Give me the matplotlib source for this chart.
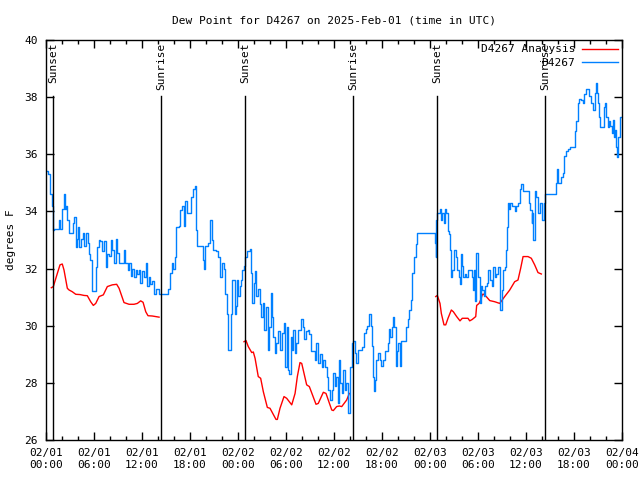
import numpy as np
import matplotlib
matplotlib.use("Agg")
import matplotlib.pyplot as plt
import matplotlib.dates as mdates

# hours after 2025-02-01 00:00 UTC
obs_hours = [
    0.05, 0.25, 0.5, 0.75, 0.9, 1.0, 1.5, 1.6, 1.8, 1.95, 2.2, 2.35, 2.5, 2.65, 2.9,
    3.2, 3.4, 3.55, 3.7, 3.9, 4.05, 4.15, 4.4, 4.65, 4.8, 4.95, 5.2, 5.4, 5.55, 5.8,
    6.0, 6.2, 6.4, 6.6, 6.8, 7.0, 7.2, 7.5, 7.65, 7.85, 8.1, 8.3, 8.5, 8.7, 8.9,
    9.1, 9.5, 9.7, 9.9, 10.2, 10.4, 10.6, 10.8, 11.0, 11.2, 11.4, 11.6, 11.8, 12.0,
    12.2, 12.45, 12.65, 12.85, 13.05, 13.25, 13.5, 13.7, 13.9, 14.1, 14.4, 15.1,
    15.25, 15.5, 15.7, 15.9, 16.1, 16.3, 16.6, 16.8, 17.0, 17.25, 17.4, 17.6, 18.1,
    18.4, 18.6, 18.8, 18.9, 19.5, 19.6, 19.75, 19.9, 20.3, 20.5, 20.7, 20.9, 21.3,
    21.55, 21.75, 21.95, 22.2, 22.4, 22.6, 22.8, 23.1, 23.2, 23.5, 23.6, 23.75,
    23.9, 24.05, 24.2, 24.35, 24.5, 24.7, 24.9, 25.1, 25.5, 25.6, 25.8, 25.95,
    26.1, 26.3, 26.5, 26.75, 26.9, 27.1, 27.25, 27.45, 27.7, 27.9, 28.1, 28.25,
    28.4, 28.6, 28.8, 29.0, 29.2, 29.45, 29.7, 29.9, 30.1, 30.25, 30.4, 30.6,
    30.75, 30.9, 31.1, 31.3, 31.5, 31.9, 32.1, 32.3, 32.5, 32.7, 32.9, 33.1, 33.4,
    33.6, 33.8, 34.0, 34.2, 34.45, 34.6, 34.85, 35.1, 35.3, 35.5, 35.7, 35.9, 36.1,
    36.3, 36.5, 36.6, 36.8, 36.95, 37.15, 37.35, 37.55, 37.8, 37.95, 38.2, 38.4,
    38.6, 38.8, 39.0, 39.5, 39.75, 39.95, 40.15, 40.4, 40.6, 40.8, 40.9, 41.0,
    41.1, 41.3, 41.5, 41.7, 41.9, 42.1, 42.4, 42.7, 42.85, 43.0, 43.2, 43.4, 43.55,
    43.7, 43.85, 44.0, 44.2, 44.4, 44.8, 45.0, 45.2, 45.4, 45.6, 45.8, 46.0, 46.2,
    46.4, 48.5, 48.6, 48.7, 48.8, 48.9, 49.2, 49.35, 49.5, 49.7, 49.9, 50.05, 50.2,
    50.35, 50.5, 50.6, 50.8, 51.0, 51.25, 51.4, 51.6, 51.7, 51.85, 52.0, 52.15,
    52.35, 52.55, 52.8, 53.0, 53.2, 53.35, 53.5, 53.6, 53.8, 53.95, 54.2, 54.35,
    54.5, 54.7, 54.9, 55.1, 55.3, 55.5, 55.7, 55.9, 56.1, 56.3, 56.5, 56.7, 56.8,
    56.95, 57.15, 57.35, 57.5, 57.6, 57.7, 57.85, 58.0, 58.2, 58.4, 58.6, 58.8,
    59.0, 59.25, 59.4, 59.6, 60.2, 60.35, 60.5, 60.7, 60.8, 60.9, 61.1, 61.3, 61.5,
    61.7, 62.0, 62.2, 62.3, 62.4, 63.6, 63.75, 63.9, 64.05, 64.4, 64.6, 64.8, 65.0,
    65.2, 65.5, 66.0, 66.1, 66.3, 66.5, 66.65, 66.9, 67.1, 67.3, 67.5, 67.7, 67.9,
    68.1, 68.4, 68.6, 68.7, 68.85, 69.0, 69.1, 69.25, 69.5, 69.7, 69.85, 70.05,
    70.2, 70.35, 70.55, 70.7, 70.85, 71.0, 71.1, 71.3, 71.4, 71.55, 71.75, 72.0,
]
obs_dewpt = [
    35.4, 35.3, 34.6, 34.2, 33.35, 33.4, 33.4, 33.7, 33.4, 34.1, 34.6, 34.1, 34.2, 33.7, 33.25,
    33.25, 33.6, 33.8, 32.75, 33.05, 33.45, 32.75, 33.05, 33.25, 32.8, 33.25, 32.9, 32.5, 32.3, 31.2,
    31.2, 32.05, 32.75, 33.0, 32.95, 32.6, 32.95, 32.05, 32.5, 32.45, 33.0, 32.65, 32.2, 33.05, 32.55,
    32.2, 32.2, 32.65, 32.2, 31.95, 32.2, 31.75, 32.0, 31.7, 31.95, 31.8, 31.95, 31.5, 31.9,
    31.7, 32.2, 31.4, 31.7, 31.45, 31.55, 31.1, 31.3, 31.3, 31.1, 31.1, 31.1,
    31.3, 31.85, 32.2, 32.0, 32.4, 33.45, 33.5, 34.05, 34.2, 33.5, 34.35, 33.95, 34.5,
    34.8, 34.9, 33.35, 32.8, 32.8, 32.3, 32.0, 32.8, 32.9, 33.7, 33.0, 32.65, 32.6,
    32.4, 31.7, 32.2, 32.0, 31.1, 30.4, 29.15, 30.4, 31.6, 31.6, 30.4, 30.7,
    31.6, 31.05, 31.4, 31.6, 31.95, 32.1, 32.4, 32.6, 32.7, 31.85, 30.8, 31.5,
    31.9, 31.05, 31.3, 30.75, 30.3, 30.8, 29.85, 30.65, 29.15, 29.95, 31.15, 30.3,
    29.6, 29.05, 29.4, 29.8, 29.15, 29.75, 30.1, 28.55, 29.95, 28.45, 28.3, 29.6,
    29.15, 29.85, 29.05, 29.4, 29.85, 30.25, 29.95, 29.55, 29.8, 29.85, 29.7, 29.1, 29.1,
    28.8, 29.4, 28.7, 29.0, 28.55, 28.8, 28.55, 28.2, 27.75, 27.4, 27.75, 28.35, 27.9,
    28.2, 27.3, 28.8, 28.0, 27.65, 28.45, 27.75, 28.0, 26.95, 28.55, 29.4, 29.45,
    29.05, 28.7, 29.15, 29.25, 29.75, 29.9, 30.0, 30.4, 30.0, 29.3, 28.2, 27.7,
    28.1, 28.8, 29.05, 28.8, 28.6, 28.8, 29.1, 29.4, 29.9, 29.6, 29.95, 30.3, 29.95,
    28.6, 29.1, 29.4, 28.6, 29.45, 29.45, 29.95, 30.25, 30.55, 30.9, 31.85, 32.4, 32.85,
    33.25, 33.25, 32.9, 32.4, 33.7, 33.95, 34.1, 33.7, 33.95, 33.6, 34.1, 33.95, 33.3,
    33.2, 32.65, 31.7, 31.95, 32.65, 32.4, 31.95, 31.7, 31.45, 32.5, 32.1, 31.7,
    31.8, 31.7, 31.95, 31.95, 31.7, 31.25, 31.95, 30.85, 32.55, 31.7, 30.8, 31.4,
    31.25, 31.05, 31.4, 31.5, 31.95, 31.6, 31.4, 32.05, 31.7, 31.8, 32.05, 31.6, 30.55,
    31.25, 31.95, 32.05, 32.65, 33.45, 34.3, 34.1, 34.3, 34.2, 34.2, 34.0, 34.2,
    34.3, 34.8, 34.95, 34.7, 34.7, 34.3, 34.05, 33.6, 33.95, 33.0, 34.7, 34.5, 33.95,
    34.3, 33.7, 33.7, 34.3, 34.6, 34.6, 35.0, 35.5, 35.0, 35.2, 35.35, 35.95, 36.1,
    36.2, 36.25, 36.25, 36.8, 37.15, 37.8, 37.95, 37.9, 37.8, 38.1, 38.3, 38.3, 38.05,
    37.8, 37.55, 38.15, 38.5, 38.15, 37.8, 37.3, 36.95, 36.95, 37.65, 37.8, 37.3,
    36.95, 37.15, 37.0, 36.75, 37.2, 36.6, 36.85, 36.25, 35.9, 36.6, 37.3, 37.3,
]

# analysis series, three overnight pieces
ana1_hours = [0.67, 0.92, 1.42, 1.75, 2.04, 2.25, 2.67, 2.88, 3.29, 3.71, 4.25, 4.75,
              5.17, 5.58, 5.92, 6.21, 6.63, 7.17, 7.67, 8.29, 8.83, 9.13, 9.75, 10.38,
              11.0, 11.42, 11.83, 12.13, 12.46, 12.75, 13.29, 14.13]
ana1_dewpt = [31.33, 31.37, 31.83, 32.13, 32.16, 31.95, 31.31, 31.25, 31.19, 31.1, 31.09, 31.06,
              31.05, 30.84, 30.71, 30.78, 31.02, 31.08, 31.37, 31.43, 31.45, 31.31, 30.81, 30.75,
              30.75, 30.78, 30.87, 30.82, 30.49, 30.35, 30.34, 30.3]
ana2_hours = [24.75, 25.0, 25.29, 25.71, 25.92, 26.13, 26.54, 26.83, 27.17, 27.67, 28.0,
              28.75, 28.92, 29.25, 29.75, 30.08, 30.71, 31.13, 31.42, 31.75, 31.96, 32.58,
              32.92, 33.75, 34.04, 34.67, 35.0, 35.71, 35.92, 36.33, 36.67, 36.96, 37.58, 37.92]
ana2_dewpt = [29.44, 29.48, 29.27, 29.06, 29.08, 28.86, 28.22, 28.16, 27.69, 27.14, 27.11,
              26.72, 26.72, 27.11, 27.52, 27.46, 27.23, 27.63, 28.22, 28.71, 28.68, 27.93,
              27.87, 27.25, 27.28, 27.67, 27.63, 27.05, 27.03, 27.17, 27.19, 27.17, 27.4, 27.63]
ana3_hours = [48.71, 48.92, 49.25, 49.42, 49.75, 49.96, 50.25, 50.67, 50.92, 51.33, 51.75,
              52.04, 52.46, 52.75, 52.96, 53.29, 53.71, 53.83, 54.13, 54.33, 54.54, 54.63,
              55.04, 55.46, 56.08, 56.71, 57.33, 57.96, 58.58, 59.0, 59.33, 59.63, 60.25,
              60.67, 61.08, 61.5, 61.92]
ana3_dewpt = [31.02, 31.06, 30.78, 30.43, 30.03, 30.03, 30.26, 30.55, 30.49, 30.32, 30.17,
              30.26, 30.26, 30.26, 30.17, 30.22, 30.32, 30.71, 30.78, 30.9, 31.08, 31.11,
              31.02, 30.88, 30.84, 30.78, 31.02, 31.25, 31.54, 31.6, 32.01, 32.42, 32.42,
              32.36, 32.13, 31.86, 31.81]

sun_hours = [0.87, 14.4, 24.87, 38.4, 48.87, 62.4]
sun_labels = ["Sunset", "Sunrise", "Sunset", "Sunrise", "Sunset", "Sunrise"]

t0 = np.datetime64("2025-02-01T00:00")


def to_time(hours):
    return t0 + (np.array(hours) * 60).round().astype("timedelta64[m]")


plt.rcParams["font.family"] = "DejaVu Sans Mono"
plt.rcParams["font.size"] = 8

fig = plt.figure(figsize=(6.4, 4.8), dpi=100)
ax = fig.add_axes([46 / 640, 40 / 480, 576 / 640, 400 / 480])

ax.plot(to_time(ana1_hours), ana1_dewpt, color="#ff0000", lw=1, label="D4267 Analysis")
ax.plot(to_time(ana2_hours), ana2_dewpt, color="#ff0000", lw=1)
ax.plot(to_time(ana3_hours), ana3_dewpt, color="#ff0000", lw=1)
ax.plot(to_time(obs_hours), obs_dewpt, color="#0080ff", lw=1, drawstyle="steps-post", label="D4267")

for h, lab in zip(sun_hours, sun_labels):
    x = to_time([h])[0]
    ax.plot([x, x], [26, 38.05], color="black", lw=1)
    ax.text(x, 39.9, lab, rotation=90, ha="center", va="top", fontsize=8)

ax.set_xlim(to_time([0])[0], to_time([72])[0])
ax.set_ylim(26, 40)
ax.set_yticks(range(26, 41, 2))
ax.xaxis.set_major_locator(mdates.HourLocator(byhour=[0, 6, 12, 18]))
ax.xaxis.set_minor_locator(mdates.HourLocator(byhour=range(0, 24, 2)))
ax.xaxis.set_major_formatter(mdates.DateFormatter("%m/%d\n%H:%M"))
ax.tick_params(which="both", direction="in", top=True, right=True, width=1)
ax.tick_params(which="major", length=6, pad=6)
ax.tick_params(which="minor", length=3)
for s in ax.spines.values():
    s.set_linewidth(1)

ax.set_ylabel("degrees F", fontsize=8, labelpad=6)
ax.set_title("Dew Point for D4267 on 2025-Feb-01 (time in UTC)", fontsize=8, pad=12)

leg = ax.legend(loc="upper right", frameon=False, fontsize=8, handlelength=3.2,
                handletextpad=0.6, markerfirst=False, borderaxespad=0.1,
                borderpad=0.3, labelspacing=0.35)
for t in leg.get_texts():
    t.set_ha("right")

fig.savefig("out.png", dpi=100)
